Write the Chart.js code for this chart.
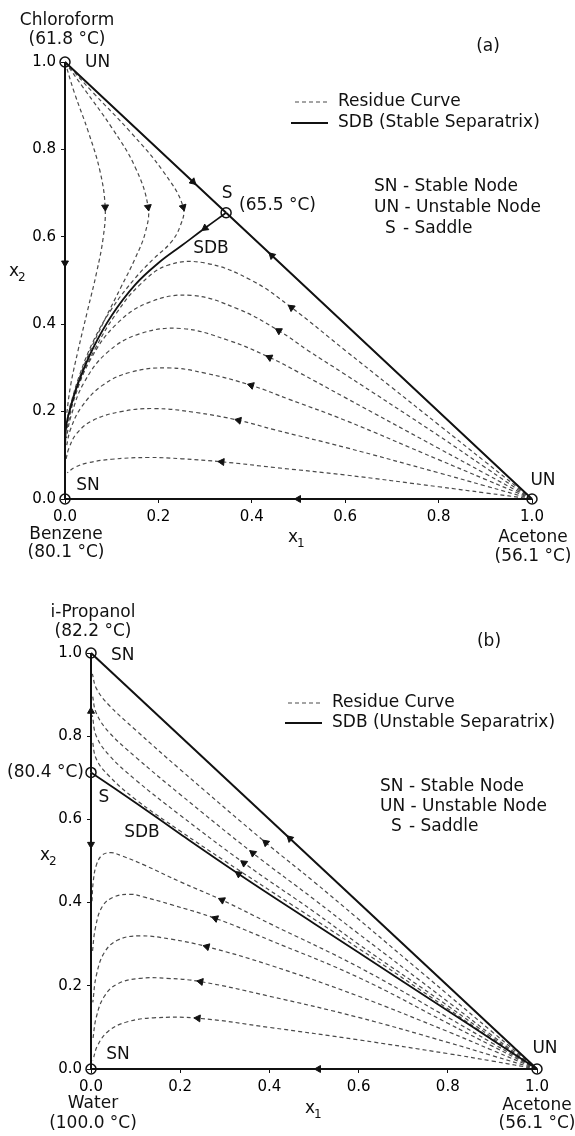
<!DOCTYPE html>
<html>
<head>
<meta charset="utf-8">
<script src="https://cdn.jsdelivr.net/npm/chart.js@4.4.1/dist/chart.umd.min.js"></script>
<style>
  html, body { margin: 0; padding: 0; background: #fff; }
  #wrap { position: relative; width: 575px; height: 1136px; }
  .panel { position: absolute; left: 0; width: 575px; height: 568px; }
</style>
</head>
<body>
<div id="wrap">
  <div class="panel" style="top:0"><canvas id="chartA"></canvas></div>
  <div class="panel" style="top:568px"><canvas id="chartB"></canvas></div>
</div>
<script>
// ---- data: (a) acetone(1) - chloroform(2) - benzene ----
const aSaddle = [0.345, 0.655];
const aNodes = [[0, 0], [1, 0], [0, 1], [0.345, 0.655]];
const aEdges = [
  [[0, 1], [0, 0.54], [0, 0]],                // chloroform -> benzene
  [[1, 0], [0.5, 0], [0, 0]],                 // acetone -> benzene
  [[0, 1], [0.274, 0.726], [0.345, 0.655]],   // chloroform -> S
  [[1, 0], [0.443, 0.557], [0.345, 0.655]]    // acetone -> S
];
const aSDB = [[0.345, 0.655], [0.3, 0.62], [0.25, 0.58], [0.2, 0.54], [0.15, 0.49], [0.1, 0.42],
  [0.06, 0.345], [0.03, 0.27], [0.012, 0.21], [0.003, 0.17], [0, 0.12]];
const aUpper = [
  [[0, 1], [0.02, 0.93], [0.05, 0.84], [0.075, 0.75], [0.086, 0.668], [0.082, 0.6], [0.068, 0.52],
   [0.048, 0.43], [0.028, 0.34], [0.012, 0.26], [0.003, 0.19]],
  [[0, 1], [0.04, 0.94], [0.1, 0.85], [0.15, 0.76], [0.178, 0.668], [0.172, 0.61], [0.15, 0.55],
   [0.12, 0.485], [0.085, 0.41], [0.05, 0.33], [0.022, 0.25], [0.006, 0.19]],
  [[0, 1], [0.06, 0.93], [0.14, 0.84], [0.21, 0.75], [0.253, 0.668], [0.245, 0.62], [0.225, 0.585],
   [0.19, 0.55], [0.15, 0.505], [0.1, 0.435], [0.06, 0.36], [0.03, 0.28], [0.01, 0.21]]
];
const aLower = [
  [[1, 0], [0.9, 0.014], [0.8, 0.028], [0.6, 0.055], [0.45, 0.072], [0.336, 0.085], [0.25, 0.092],
   [0.18, 0.095], [0.1, 0.091], [0.05, 0.083], [0.02, 0.072], [0.005, 0.06]],
  [[1, 0], [0.9, 0.03], [0.8, 0.06], [0.6, 0.118], [0.45, 0.158], [0.372, 0.18], [0.28, 0.198],
   [0.19, 0.207], [0.12, 0.2], [0.06, 0.18], [0.025, 0.15], [0.008, 0.115], [0.002, 0.09]],
  [[1, 0], [0.9, 0.045], [0.8, 0.09], [0.6, 0.18], [0.48, 0.228], [0.399, 0.26], [0.3, 0.288],
   [0.22, 0.3], [0.14, 0.29], [0.08, 0.26], [0.035, 0.21], [0.012, 0.16], [0.003, 0.12]],
  [[1, 0], [0.9, 0.058], [0.8, 0.116], [0.6, 0.232], [0.5, 0.29], [0.438, 0.324], [0.35, 0.363],
   [0.25, 0.39], [0.16, 0.378], [0.09, 0.335], [0.04, 0.265], [0.013, 0.19], [0.003, 0.14]],
  [[1, 0], [0.9, 0.072], [0.8, 0.145], [0.6, 0.285], [0.52, 0.34], [0.458, 0.385], [0.37, 0.435],
   [0.27, 0.466], [0.18, 0.45], [0.11, 0.4], [0.055, 0.32], [0.02, 0.23], [0.004, 0.16]],
  [[1, 0], [0.9, 0.085], [0.8, 0.17], [0.7, 0.255], [0.6, 0.34], [0.485, 0.438], [0.4, 0.5],
   [0.3, 0.54], [0.22, 0.535], [0.16, 0.49], [0.11, 0.425], [0.065, 0.345], [0.03, 0.265],
   [0.01, 0.2], [0.002, 0.16]]
];
const aUpperArrowAt = [4, 4, 4];
const aLowerArrowAt = [5, 5, 5, 5, 5, 5];
const aSDBArrowAt = 1;

// ---- data: (b) acetone(1) - i-propanol(2) - water ----
const bSaddle = [0, 0.713];
const bNodes = [[0, 0], [1, 0], [0, 1], [0, 0.713]];
const bEdges = [
  [[1, 0], [0.446, 0.554], [0, 1]],           // acetone -> i-propanol
  [[0, 0.713], [0, 0.86], [0, 1]],            // S -> i-propanol
  [[0, 0.713], [0, 0.54], [0, 0]],            // S -> water
  [[1, 0], [0.51, 0], [0, 0]]                 // acetone -> water
];
const bSDB = [[1, 0], [0.85, 0.105], [0.7, 0.21], [0.5, 0.35], [0.331, 0.469], [0.2, 0.565],
  [0.1, 0.64], [0, 0.713]];
const bUpper = [
  [[1, 0], [0.9, 0.089], [0.8, 0.179], [0.6, 0.36], [0.5, 0.45], [0.392, 0.544], [0.2, 0.72],
   [0.1, 0.815], [0.04, 0.875], [0.012, 0.915], [0.003, 0.95]],
  [[1, 0], [0.9, 0.08], [0.8, 0.162], [0.6, 0.325], [0.5, 0.408], [0.363, 0.519], [0.2, 0.66],
   [0.1, 0.75], [0.04, 0.81], [0.012, 0.855], [0.003, 0.9]],
  [[1, 0], [0.9, 0.075], [0.8, 0.152], [0.6, 0.3], [0.5, 0.378], [0.343, 0.495], [0.2, 0.61],
   [0.1, 0.695], [0.04, 0.755], [0.012, 0.8], [0.003, 0.85]],
  [[1, 0], [0.9, 0.071], [0.8, 0.145], [0.6, 0.29], [0.45, 0.395], [0.3, 0.5], [0.2, 0.572],
   [0.1, 0.648], [0.04, 0.705], [0.012, 0.745], [0.003, 0.79]]
];
const bLower = [
  [[1, 0], [0.9, 0.019], [0.8, 0.037], [0.6, 0.07], [0.4, 0.1], [0.24, 0.122], [0.14, 0.123],
   [0.08, 0.113], [0.04, 0.092], [0.015, 0.057], [0.004, 0.02]],
  [[1, 0], [0.9, 0.032], [0.8, 0.064], [0.6, 0.124], [0.4, 0.175], [0.246, 0.21], [0.17, 0.218],
   [0.11, 0.218], [0.06, 0.205], [0.03, 0.175], [0.012, 0.125], [0.004, 0.07]],
  [[1, 0], [0.9, 0.045], [0.8, 0.09], [0.6, 0.175], [0.4, 0.25], [0.26, 0.294], [0.18, 0.312],
   [0.109, 0.32], [0.06, 0.31], [0.03, 0.28], [0.012, 0.225], [0.004, 0.16]],
  [[1, 0], [0.9, 0.055], [0.8, 0.11], [0.6, 0.22], [0.4, 0.31], [0.279, 0.362], [0.18, 0.395],
   [0.12, 0.413], [0.088, 0.42], [0.05, 0.413], [0.025, 0.39], [0.01, 0.34], [0.003, 0.28]],
  [[1, 0], [0.9, 0.062], [0.8, 0.124], [0.6, 0.245], [0.4, 0.35], [0.294, 0.406], [0.2, 0.45],
   [0.12, 0.49], [0.07, 0.512], [0.045, 0.52], [0.025, 0.514], [0.012, 0.49], [0.005, 0.45],
   [0.002, 0.4]]
];
const bUpperArrowAt = [5, 5, 5, -1];
const bLowerArrowAt = [5, 5, 5, 5, 5];
const bSDBArrowAt = 4;

const tickValues = [0, 0.2, 0.4, 0.6, 0.8, 1.0];

// ---- drawing ----
const FONT = 'DejaVu Sans';
const INK = '#111';
const DASH = '#4a4a4a';
Chart.defaults.font.family = FONT;
Chart.defaults.color = INK;

const toXY = pts => pts.map(p => ({ x: p[0], y: p[1] }));

function lineSet(pts, style) {
  return Object.assign({
    data: toXY(pts), showLine: true, pointRadius: 0, fill: false, clip: false, tension: 0
  }, style);
}

// arrow sits on a curve point, pointing along the curve (prev -> next)
function arrowsOn(curves, at) {
  const out = [];
  curves.forEach((c, k) => {
    const i = at[k];
    if (i < 1) return;
    const a = c[i - 1], b = c[i + 1];
    out.push({ x: c[i][0], y: c[i][1], dx: b[0] - a[0], dy: b[1] - a[1] });
  });
  return out;
}

function arrowRotation(ctx) {
  const r = ctx.raw, area = ctx.chart.chartArea;
  if (!r || !area) return 0;
  const px = r.dx * (area.right - area.left);
  const py = -r.dy * (area.bottom - area.top);
  return Math.atan2(px, -py) * 180 / Math.PI;
}

function buildDatasets(edges, sdb, sdbAt, upper, upAt, lower, lowAt, nodes) {
  const sets = [];
  upper.concat(lower).forEach(c => sets.push(lineSet(c, {
    borderColor: DASH, borderWidth: 1.2, borderDash: [4, 3], tension: 0.4, order: 3
  })));
  sets.push(lineSet(sdb, { borderColor: INK, borderWidth: 1.8, tension: 0.4, order: 2 }));
  edges.forEach(e => sets.push(lineSet(e, { borderColor: INK, borderWidth: 2, order: 2 })));
  const arrows = arrowsOn(edges, edges.map(() => 1))
    .concat(arrowsOn([sdb], [sdbAt]))
    .concat(arrowsOn(upper, upAt))
    .concat(arrowsOn(lower, lowAt));
  sets.push({
    data: arrows, showLine: false, pointStyle: 'triangle', pointRadius: 4,
    rotation: arrowRotation, backgroundColor: INK, borderColor: INK, borderWidth: 1,
    clip: false, order: 1
  });
  sets.push({
    data: toXY(nodes), showLine: false, pointStyle: 'circle', pointRadius: 5,
    borderWidth: 1.5, borderColor: INK, backgroundColor: 'rgba(0,0,0,0)', clip: false, order: 0
  });
  return sets;
}

// labels, legend and node names drawn on top of the plot
function notesPlugin(notes) {
  return {
    id: 'notes',
    afterDatasetsDraw(chart) {
      const ctx = chart.ctx, xs = chart.scales.x, ys = chart.scales.y;
      ctx.save();
      notes.legend.forEach(l => {
        ctx.beginPath();
        ctx.setLineDash(l.dash);
        ctx.lineWidth = l.width;
        ctx.strokeStyle = l.color;
        ctx.moveTo(l.x0, l.y);
        ctx.lineTo(l.x1, l.y);
        ctx.stroke();
      });
      ctx.setLineDash([]);
      ctx.fillStyle = INK;
      ctx.textBaseline = 'middle';
      notes.items.forEach(t => {
        let x = t.x, y = t.y;
        if (t.at) {
          x = xs.getPixelForValue(t.at[0]) + t.dx;
          y = ys.getPixelForValue(t.at[1]) + t.dy;
        }
        ctx.font = (t.size || 17) + 'px "' + FONT + '"';
        ctx.textAlign = t.align || 'center';
        ctx.fillText(t.text, x, y);
      });
      ctx.restore();
    }
  };
}

function panelOptions(pad, yWidth, xHeight) {
  const axis = extra => Object.assign({
    type: 'linear', min: 0, max: 1,
    afterBuildTicks: s => { s.ticks = tickValues.map(v => ({ value: v })); },
    ticks: { padding: 5, color: '#000', font: { size: 15 }, callback: v => Number(v).toFixed(1) },
    grid: { display: true, drawOnChartArea: false, drawTicks: true, tickLength: 4, color: INK },
    border: { display: false }
  }, extra);
  return {
    responsive: true, maintainAspectRatio: false, animation: false, events: [],
    layout: { padding: pad },
    scales: {
      x: axis({ position: 'bottom', afterFit: s => { s.height = xHeight; } }),
      y: axis({ position: 'left', afterFit: s => { s.width = yWidth; } })
    },
    plugins: { legend: { display: false }, tooltip: { enabled: false } }
  };
}

const notesA = {
  legend: [
    { x0: 295, x1: 328, y: 102, dash: [4, 3], width: 1.2, color: DASH },
    { x0: 291, x1: 328, y: 123, dash: [], width: 1.8, color: INK }
  ],
  items: [
    { text: 'Chloroform', x: 67, y: 21 },
    { text: '(61.8 °C)', x: 67, y: 40 },
    { text: 'UN', at: [0, 1], dx: 20, dy: 1, align: 'left' },
    { text: '(a)', x: 488, y: 47 },
    { text: 'Residue Curve', x: 338, y: 102, align: 'left' },
    { text: 'SDB (Stable Separatrix)', x: 338, y: 123, align: 'left' },
    { text: 'SN - Stable Node', x: 374, y: 187, align: 'left' },
    { text: 'UN - Unstable Node', x: 374, y: 208, align: 'left' },
    { text: 'S', x: 385, y: 229, align: 'left' },
    { text: '- Saddle', x: 403, y: 229, align: 'left' },
    { text: 'S', at: aSaddle, dx: 1, dy: -19 },
    { text: '(65.5 °C)', at: aSaddle, dx: 13, dy: -7, align: 'left' },
    { text: 'SDB', x: 211, y: 249 },
    { text: 'x', x: 9, y: 272, align: 'left' },
    { text: '2', x: 18, y: 278, align: 'left', size: 12 },
    { text: 'SN', at: [0, 0], dx: 23, dy: -13 },
    { text: 'Benzene', x: 66, y: 535 },
    { text: '(80.1 °C)', x: 66, y: 553 },
    { text: 'x', x: 288, y: 538, align: 'left' },
    { text: '1', x: 297, y: 544, align: 'left', size: 12 },
    { text: 'UN', at: [1, 0], dx: 11, dy: -18 },
    { text: 'Acetone', x: 533, y: 538 },
    { text: '(56.1 °C)', x: 533, y: 557 }
  ]
};

const notesB = {
  legend: [
    { x0: 288, x1: 322, y: 135, dash: [4, 3], width: 1.2, color: DASH },
    { x0: 285, x1: 322, y: 155, dash: [], width: 1.8, color: INK }
  ],
  items: [
    { text: 'i-Propanol', x: 93, y: 45 },
    { text: '(82.2 °C)', x: 93, y: 64 },
    { text: 'SN', at: [0, 1], dx: 20, dy: 3, align: 'left' },
    { text: '(b)', x: 489, y: 74 },
    { text: 'Residue Curve', x: 332, y: 135, align: 'left' },
    { text: 'SDB (Unstable Separatrix)', x: 332, y: 155, align: 'left' },
    { text: 'SN - Stable Node', x: 380, y: 219, align: 'left' },
    { text: 'UN - Unstable Node', x: 380, y: 239, align: 'left' },
    { text: 'S', x: 391, y: 259, align: 'left' },
    { text: '- Saddle', x: 409, y: 259, align: 'left' },
    { text: '(80.4 °C)', at: bSaddle, dx: -7, dy: 0, align: 'right' },
    { text: 'S', at: bSaddle, dx: 13, dy: 25 },
    { text: 'SDB', x: 142, y: 265 },
    { text: 'x', x: 40, y: 288, align: 'left' },
    { text: '2', x: 49, y: 294, align: 'left', size: 12 },
    { text: 'SN', at: [0, 0], dx: 27, dy: -14 },
    { text: 'Water', x: 93, y: 536 },
    { text: '(100.0 °C)', x: 93, y: 556 },
    { text: 'x', x: 305, y: 541, align: 'left' },
    { text: '1', x: 314, y: 547, align: 'left', size: 12 },
    { text: 'UN', at: [1, 0], dx: 8, dy: -20 },
    { text: 'Acetone', x: 537, y: 538 },
    { text: '(56.1 °C)', x: 537, y: 556 }
  ]
};

new Chart(document.getElementById('chartA'), {
  type: 'scatter',
  data: { datasets: buildDatasets(aEdges, aSDB, aSDBArrowAt, aUpper, aUpperArrowAt, aLower, aLowerArrowAt, aNodes) },
  options: panelOptions({ left: 0, right: 43, top: 62, bottom: 0 }, 65, 69),
  plugins: [notesPlugin(notesA)]
});

new Chart(document.getElementById('chartB'), {
  type: 'scatter',
  data: { datasets: buildDatasets(bEdges, bSDB, bSDBArrowAt, bUpper, bUpperArrowAt, bLower, bLowerArrowAt, bNodes) },
  options: panelOptions({ left: 0, right: 38, top: 85, bottom: 0 }, 91, 67),
  plugins: [notesPlugin(notesB)]
});
</script>
</body>
</html>
